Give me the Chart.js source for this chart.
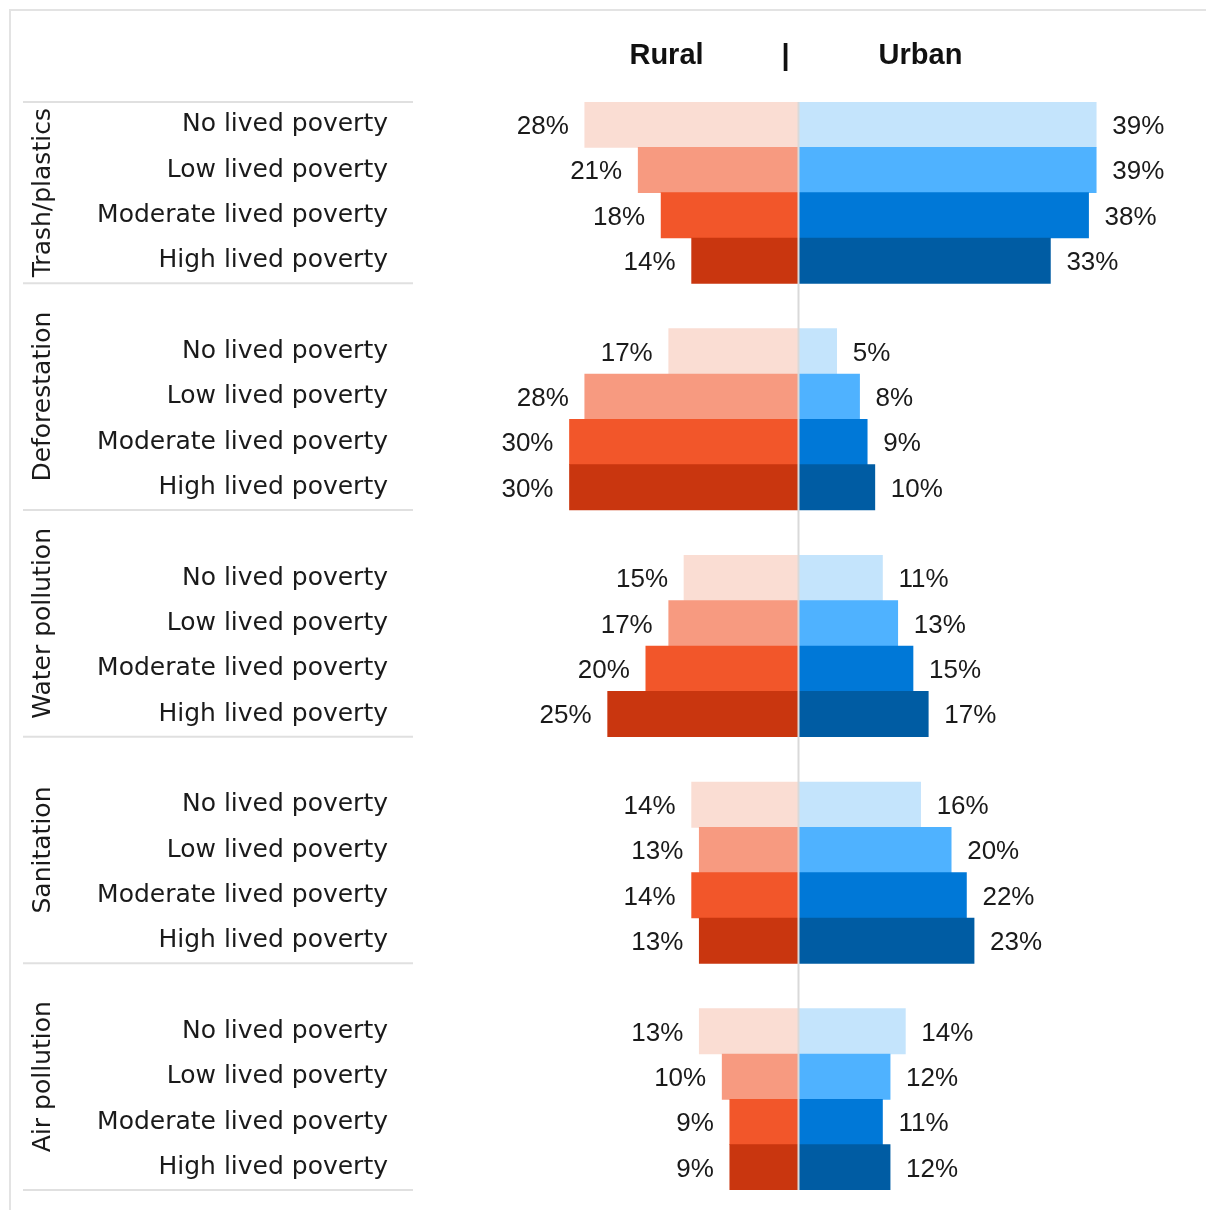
<!DOCTYPE html>
<html>
<head>
<meta charset="utf-8">
<script src="https://cdn.jsdelivr.net/npm/chart.js@4/dist/chart.umd.min.js"></script>
<style>
  html, body { margin: 0; padding: 0; background: #ffffff; }
  #wrap { position: relative; width: 1206px; height: 1210px; overflow: hidden; }
  #frame { position: absolute; left: 9px; top: 9px; width: 1300px; height: 1300px;
           border-left: 2px solid #e3e3e3; border-top: 2px solid #e3e3e3; }
  canvas { position: absolute; left: 0; top: 0; }
</style>
</head>
<body>
<div id="wrap">
  <div id="frame"></div>
  <canvas id="chart" width="1206" height="1210"></canvas>
</div>
<script>
// Environmental concerns by lived poverty level, rural vs urban respondents (%)
const groups = ['Trash/plastics', 'Deforestation', 'Water pollution', 'Sanitation', 'Air pollution'];
const levels = ['No lived poverty', 'Low lived poverty', 'Moderate lived poverty', 'High lived poverty'];

const ruralTrash = [28, 21, 18, 14];
const ruralDeforest = [17, 28, 30, 30];
const ruralWater = [15, 17, 20, 25];
const ruralSanit = [14, 13, 14, 13];
const ruralAir = [13, 10, 9, 9];

const urbanTrash = [39, 39, 38, 33];
const urbanDeforest = [5, 8, 9, 10];
const urbanWater = [11, 13, 15, 17];
const urbanSanit = [16, 20, 22, 23];
const urbanAir = [14, 12, 11, 12];

const ruralByGroup = [ruralTrash, ruralDeforest, ruralWater, ruralSanit, ruralAir];
const urbanByGroup = [urbanTrash, urbanDeforest, urbanWater, urbanSanit, urbanAir];

const ruralColors = ['#FADDD3', '#F79A80', '#F2562A', '#C9360F'];
const urbanColors = ['#C4E4FC', '#4FB2FF', '#0078D7', '#005CA3'];

// Build the row layout: four levels per group, one empty row between groups
const labels = [], ruralData = [], urbanData = [], ruralBg = [], urbanBg = [];
const groupRows = [];
groups.forEach((g, gi) => {
  if (gi > 0) { labels.push(''); ruralData.push(null); urbanData.push(null); ruralBg.push('transparent'); urbanBg.push('transparent'); }
  const first = labels.length;
  levels.forEach((lv, li) => {
    labels.push(lv);
    ruralData.push(-ruralByGroup[gi][li]);
    urbanData.push(urbanByGroup[gi][li]);
    ruralBg.push(ruralColors[li]);
    urbanBg.push(urbanColors[li]);
  });
  groupRows.push([first, labels.length - 1]);
});

const FONT = '"DejaVu Sans", sans-serif';
const VALUE_FONT = '26px "Liberation Sans", Arial, sans-serif';

const decorations = {
  id: 'decorations',
  afterDatasetsDraw(chart) {
    const { ctx, chartArea, scales } = chart;
    const x = scales.x, y = scales.y;
    const cx = x.getPixelForValue(0);
    const half = (y.getPixelForValue(1) - y.getPixelForValue(0)) / 2;
    ctx.save();

    // centre divider
    ctx.strokeStyle = '#d9d9d9';
    ctx.lineWidth = 2;
    ctx.beginPath();
    ctx.moveTo(cx, chartArea.top);
    ctx.lineTo(cx, chartArea.bottom);
    ctx.stroke();

    // value labels at the bar ends
    ctx.font = VALUE_FONT;
    ctx.fillStyle = '#1a1a1a';
    ctx.textBaseline = 'middle';
    chart.data.datasets.forEach((ds, di) => {
      const meta = chart.getDatasetMeta(di);
      meta.data.forEach((bar, i) => {
        const v = ds.data[i];
        if (v === null) return;
        const txt = Math.abs(v) + '%';
        if (v < 0) { ctx.textAlign = 'right'; ctx.fillText(txt, bar.x - 16, bar.y + 2); }
        else { ctx.textAlign = 'left'; ctx.fillText(txt, bar.x + 16, bar.y + 2); }
      });
    });

    // group separators and rotated group names
    const sepLeft = 23, sepRight = chartArea.left;
    ctx.strokeStyle = '#e0e0e0';
    ctx.lineWidth = 2;
    const edges = [y.getPixelForValue(groupRows[0][0]) - half];
    groupRows.forEach(([a, b]) => edges.push(y.getPixelForValue(b) + half));
    edges.forEach(py => {
      ctx.beginPath();
      ctx.moveTo(sepLeft, py);
      ctx.lineTo(sepRight, py);
      ctx.stroke();
    });
    ctx.font = '25px ' + FONT;
    ctx.fillStyle = '#1a1a1a';
    ctx.textAlign = 'center';
    ctx.textBaseline = 'middle';
    groups.forEach((g, gi) => {
      const mid = (edges[gi] + edges[gi + 1]) / 2;
      ctx.save();
      ctx.translate(43, mid);
      ctx.rotate(-Math.PI / 2);
      ctx.fillText(g, 0, 0);
      ctx.restore();
    });

    // column headers
    ctx.font = 'bold 29px "Liberation Sans", Arial, sans-serif';
    ctx.fillStyle = '#111111';
    ctx.textAlign = 'center';
    ctx.fillText('Rural', cx - 132, 56);
    ctx.fillText('|', cx - 13, 57);
    ctx.fillText('Urban', cx + 122, 56);
    ctx.restore();
  }
};

new Chart(document.getElementById('chart'), {
  type: 'bar',
  data: {
    labels: labels,
    datasets: [
      { label: 'Rural', data: ruralData, backgroundColor: ruralBg, borderWidth: 0, barPercentage: 1, categoryPercentage: 1 },
      { label: 'Urban', data: urbanData, backgroundColor: urbanBg, borderWidth: 0, barPercentage: 1, categoryPercentage: 1 }
    ]
  },
  options: {
    indexAxis: 'y',
    responsive: false,
    devicePixelRatio: 1,
    animation: false,
    layout: { padding: { top: 102, bottom: 20, left: 0, right: 22 } },
    plugins: { legend: { display: false }, tooltip: { enabled: false } },
    scales: {
      x: { display: false, stacked: true, min: -50.5, max: 50.5 },
      y: {
        stacked: true,
        grid: { display: false, drawTicks: false },
        border: { display: false },
        ticks: { autoSkip: false, padding: 25, color: '#1a1a1a', font: { family: FONT, size: 25 } },
        afterFit(scale) {
          scale.width = 413;
          scale.paddingTop = 0;
          scale.paddingBottom = 0;
        }
      }
    }
  },
  plugins: [decorations]
});
</script>
</body>
</html>
